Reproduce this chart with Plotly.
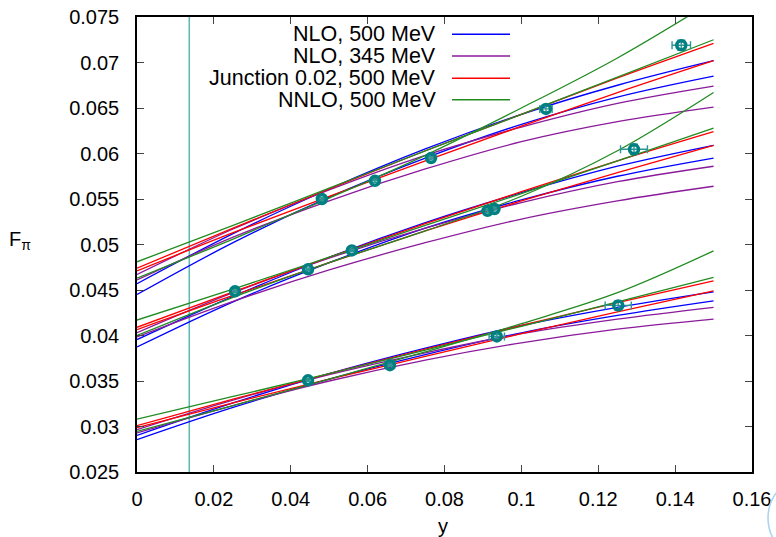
import plotly.graph_objects as go

x_knots = [0.0, 0.025, 0.05, 0.075, 0.1, 0.125, 0.15]

# each fit: six curves (top A, top B, middle A, middle B, bottom A, bottom B)
nlo_500 = [
    [0.0457, 0.0512, 0.0561, 0.0605, 0.0643, 0.0675, 0.0702],
    [0.0445, 0.0502, 0.0552, 0.0595, 0.0632, 0.0662, 0.0685],
    [0.03955, 0.0443, 0.0486, 0.0524, 0.0557, 0.0586, 0.0609],
    [0.03874, 0.0437, 0.0480, 0.0518, 0.0549, 0.0575, 0.0595],
    [0.02903, 0.0326, 0.0358, 0.0386, 0.0411, 0.0431, 0.0448],
    [0.02856, 0.0321, 0.0352, 0.0379, 0.0403, 0.0422, 0.0438],
]
nlo_345 = [
    [0.0467, 0.0517, 0.0560, 0.0598, 0.0629, 0.0655, 0.0674],
    [0.0461, 0.0508, 0.0548, 0.0583, 0.0613, 0.0635, 0.0651],
    [0.0403, 0.0447, 0.0485, 0.0518, 0.0546, 0.0569, 0.0586],
    [0.03984, 0.04375, 0.0472, 0.0502, 0.0528, 0.0548, 0.0564],
    [0.02966, 0.0329, 0.0357, 0.0381, 0.0402, 0.0418, 0.0431],
    [0.02929, 0.0323, 0.0350, 0.0373, 0.0392, 0.0407, 0.0418],
]
junction = [
    [0.0474, 0.0518, 0.0561, 0.0603, 0.0643, 0.0683, 0.0721],
    [0.0471, 0.0513, 0.0553, 0.0592, 0.0630, 0.0667, 0.0702],
    [0.0409, 0.0448, 0.0486, 0.0523, 0.0558, 0.0592, 0.0624],
    [0.04065, 0.0444, 0.0480, 0.0515, 0.0548, 0.0579, 0.0609],
    [0.0301, 0.0330, 0.0358, 0.0385, 0.0411, 0.0436, 0.0460],
    [0.02988, 0.0326, 0.0352, 0.0377, 0.0402, 0.0426, 0.0449],
]
nnlo_500 = [
    [0.0481, 0.0521, 0.0562, 0.0603, 0.0643, 0.0684, 0.0725],
    [0.0463, 0.0506, 0.0551, 0.0598, 0.0650, 0.0705, 0.0768],
    [0.0417, 0.0451, 0.0486, 0.0521, 0.0556, 0.0592, 0.0628],
    [0.0400, 0.0442, 0.0480, 0.0515, 0.0553, 0.0603, 0.0667],
    [0.0308, 0.0333, 0.0358, 0.0384, 0.0410, 0.0437, 0.0464],
    [0.02947, 0.0323, 0.0352, 0.0382, 0.0413, 0.0447, 0.0493],
]

fit_names = ["NLO, 500 MeV", "NLO, 345 MeV", "Junction 0.02, 500 MeV", "NNLO, 500 MeV"]
fit_colors = ["#0000ff", "#8b1a9b", "#ff0000", "#228b22"]
fit_curves = [nlo_500, nlo_345, junction, nnlo_500]

# lattice data points
pt_x = [0.0481, 0.0619, 0.0765, 0.1064, 0.1416,
        0.0255, 0.0445, 0.0559, 0.0912, 0.0930, 0.1293,
        0.0445, 0.0658, 0.0936, 0.1252]
pt_y = [0.0550, 0.0570, 0.0595, 0.0649, 0.0719,
        0.04485, 0.04727, 0.04935, 0.0537, 0.0539, 0.06046,
        0.03507, 0.03674, 0.0399, 0.04331]
pt_xerr = [0.0006, 0.0007, 0.0008, 0.0016, 0.0024,
           0.0004, 0.0005, 0.0006, 0.0010, 0.0010, 0.0035,
           0.0004, 0.0005, 0.0020, 0.0034]
pt_yerr = [0.0002, 0.0002, 0.0002, 0.0003, 0.00055,
           0.00015, 0.00015, 0.00015, 0.0002, 0.0002, 0.00055,
           0.00012, 0.00012, 0.0002, 0.0005]

y_phys = 0.0136

x_ticks = [0, 0.02, 0.04, 0.06, 0.08, 0.1, 0.12, 0.14, 0.16]
x_ticklabels = ["0", "0.02", "0.04", "0.06", "0.08", "0.1", "0.12", "0.14", "0.16"]
y_ticks = [0.025, 0.03, 0.035, 0.04, 0.045, 0.05, 0.055, 0.06, 0.065, 0.07, 0.075]
y_ticklabels = ["0.025", "0.03", "0.035", "0.04", "0.045", "0.05", "0.055",
                "0.06", "0.065", "0.07", "0.075"]

FONT = "Liberation Sans, Arial, Helvetica, sans-serif"
FS = 20
FS_KEY = 21.5

fig = go.Figure()

# vertical physical-point line
fig.add_trace(go.Scatter(x=[y_phys, y_phys], y=[y_ticks[0], y_ticks[-1]], mode="lines",
                         line=dict(color="#5cb8b8", width=1.5), showlegend=False,
                         hoverinfo="skip"))

for name, color, curves in zip(fit_names, fit_colors, fit_curves):
    for c in curves:
        fig.add_trace(go.Scatter(x=x_knots, y=c, mode="lines",
                                 line=dict(color=color, width=1.3, shape="spline"),
                                 showlegend=False, name=name))

fig.add_trace(go.Scatter(
    x=pt_x, y=pt_y, mode="markers",
    marker=dict(symbol="circle-open", size=9, color="#008080", line=dict(width=3.5, color="#008080")),
    error_x=dict(type="data", array=pt_xerr, color="#2a9696", thickness=1.4, width=4),
    error_y=dict(type="data", array=pt_yerr, color="#2a9696", thickness=1.4, width=4),
    showlegend=False))

# hand-drawn key: right-aligned text, sample line on the right
L, R, T, B = 137, 752, 17, 472
W, H = R - L, B - T
rows_px = [34.3, 56.0, 78.3, 99.7]
shapes = []
annotations = []
for name, color, ry in zip(fit_names, fit_colors, rows_px):
    yp = 1 - (ry - T) / H
    annotations.append(dict(x=(438 - L) / W, y=yp, xref="paper", yref="paper",
                            text=name, showarrow=False, xanchor="right", yanchor="middle",
                            font=dict(family=FONT, size=FS_KEY, color="black")))
    shapes.append(dict(type="line", xref="paper", yref="paper",
                       x0=(452 - L) / W, x1=(510 - L) / W, y0=yp, y1=yp,
                       line=dict(color=color, width=1.5)))

# axis titles
annotations.append(dict(x=(443 - L) / W, y=1 - (526 - T) / H, xref="paper", yref="paper",
                        text="y", showarrow=False, xanchor="center", yanchor="middle",
                        font=dict(family=FONT, size=FS, color="black")))
annotations.append(dict(x=(20 - L) / W, y=1 - (240 - T) / H, xref="paper", yref="paper",
                        text="F<sub>π</sub>", showarrow=False, xanchor="center", yanchor="middle",
                        font=dict(family=FONT, size=FS, color="black")))

# faint decorative arc at bottom-right corner
shapes.append(dict(type="circle", xref="paper", yref="paper",
                   x0=(768 - L) / W, x1=(852 - L) / W,
                   y0=1 - (560 - T) / H, y1=1 - (476 - T) / H,
                   line=dict(color="#a9d3ef", width=1.5)))

axis_common = dict(showgrid=False, zeroline=False, showline=True, mirror="allticks",
                   linecolor="black", linewidth=1.5, ticks="inside", ticklen=7,
                   tickcolor="#444444", tickwidth=1.2, automargin=False,
                   tickfont=dict(family=FONT, size=FS, color="black"))

fig.update_xaxes(range=[0, 0.16], tickvals=x_ticks, ticktext=x_ticklabels,
                 ticklabelstandoff=8, **axis_common)
fig.update_yaxes(range=[0.025, 0.075], tickvals=y_ticks, ticktext=y_ticklabels,
                 ticklabelstandoff=12, **axis_common)

fig.update_layout(width=776, height=537, margin=dict(l=L, r=776 - R, t=T, b=537 - B),
                  plot_bgcolor="white", paper_bgcolor="white",
                  font=dict(family=FONT, size=FS, color="black"),
                  shapes=shapes, annotations=annotations, showlegend=False)

fig.write_html("out.html", config={"displayModeBar": False},
               post_script="document.body.style.margin='0';document.body.style.overflow='hidden';")
